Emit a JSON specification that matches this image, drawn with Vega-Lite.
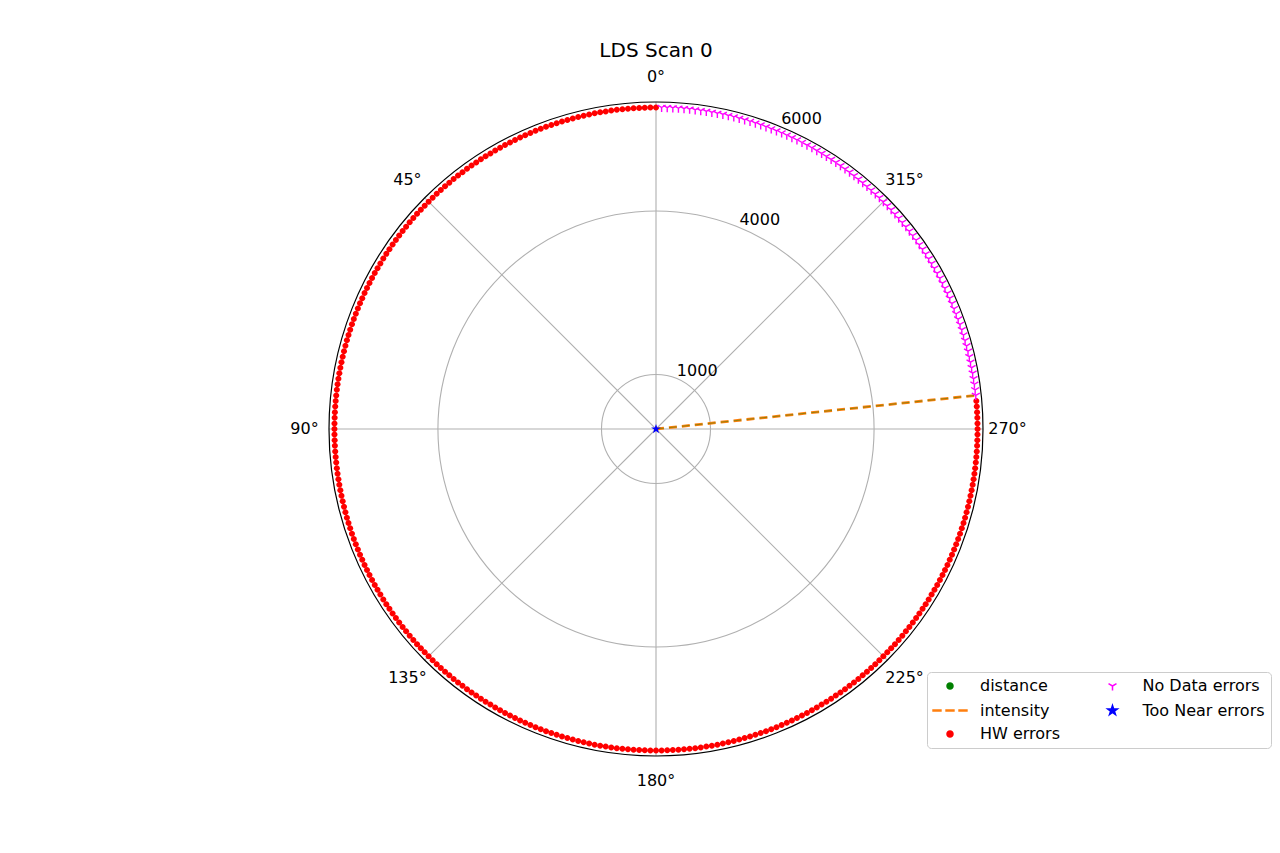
{
"$schema":"https://vega.github.io/schema/vega-lite/v6.json",
"width":654,"height":654,
"autosize":{"type":"none"},
"padding":{"left":329,"top":102,"right":297,"bottom":97},
"background":"white",
"title":{"text":"LDS Scan 0","font":"DejaVu Sans","fontSize":20,"fontWeight":"normal","color":"black","offset":8,"anchor":"middle","frame":"group"},
"datasets":{
"rings":[{"r":1000},{"r":4000}],
"spine":[{"r":6000}],
"spokes":[{"a":0},{"a":45},{"a":90},{"a":135},{"a":180},{"a":225},{"a":270},{"a":315}],
"angleLabels":[{"a":0,"label":"0°"},{"a":45,"label":"45°"},{"a":90,"label":"90°"},{"a":135,"label":"135°"},{"a":180,"label":"180°"},{"a":225,"label":"225°"},{"a":270,"label":"270°"},{"a":315,"label":"315°"}],
"rLabels":[{"r":1000,"label":"1000"},{"r":4000,"label":"4000"},{"r":6000,"label":"6000"}],
"beam":[{"angle":276,"dist":0,"series":"intensity"},{"angle":276,"dist":5880,"series":"intensity"},{"angle":276,"dist":0,"series":"distance"},{"angle":276,"dist":5880,"series":"distance"}],
"scan":[
{"angle":0,"dist":5900,"series":"HW errors"},{"angle":1,"dist":5900,"series":"HW errors"},{"angle":2,"dist":5900,"series":"HW errors"},{"angle":3,"dist":5900,"series":"HW errors"},{"angle":4,"dist":5900,"series":"HW errors"},{"angle":5,"dist":5900,"series":"HW errors"},{"angle":6,"dist":5900,"series":"HW errors"},{"angle":7,"dist":5900,"series":"HW errors"},{"angle":8,"dist":5900,"series":"HW errors"},{"angle":9,"dist":5900,"series":"HW errors"},
{"angle":10,"dist":5900,"series":"HW errors"},{"angle":11,"dist":5900,"series":"HW errors"},{"angle":12,"dist":5900,"series":"HW errors"},{"angle":13,"dist":5900,"series":"HW errors"},{"angle":14,"dist":5900,"series":"HW errors"},{"angle":15,"dist":5900,"series":"HW errors"},{"angle":16,"dist":5900,"series":"HW errors"},{"angle":17,"dist":5900,"series":"HW errors"},{"angle":18,"dist":5900,"series":"HW errors"},{"angle":19,"dist":5900,"series":"HW errors"},
{"angle":20,"dist":5900,"series":"HW errors"},{"angle":21,"dist":5900,"series":"HW errors"},{"angle":22,"dist":5900,"series":"HW errors"},{"angle":23,"dist":5900,"series":"HW errors"},{"angle":24,"dist":5900,"series":"HW errors"},{"angle":25,"dist":5900,"series":"HW errors"},{"angle":26,"dist":5900,"series":"HW errors"},{"angle":27,"dist":5900,"series":"HW errors"},{"angle":28,"dist":5900,"series":"HW errors"},{"angle":29,"dist":5900,"series":"HW errors"},
{"angle":30,"dist":5900,"series":"HW errors"},{"angle":31,"dist":5900,"series":"HW errors"},{"angle":32,"dist":5900,"series":"HW errors"},{"angle":33,"dist":5900,"series":"HW errors"},{"angle":34,"dist":5900,"series":"HW errors"},{"angle":35,"dist":5900,"series":"HW errors"},{"angle":36,"dist":5900,"series":"HW errors"},{"angle":37,"dist":5900,"series":"HW errors"},{"angle":38,"dist":5900,"series":"HW errors"},{"angle":39,"dist":5900,"series":"HW errors"},
{"angle":40,"dist":5900,"series":"HW errors"},{"angle":41,"dist":5900,"series":"HW errors"},{"angle":42,"dist":5900,"series":"HW errors"},{"angle":43,"dist":5900,"series":"HW errors"},{"angle":44,"dist":5900,"series":"HW errors"},{"angle":45,"dist":5900,"series":"HW errors"},{"angle":46,"dist":5900,"series":"HW errors"},{"angle":47,"dist":5900,"series":"HW errors"},{"angle":48,"dist":5900,"series":"HW errors"},{"angle":49,"dist":5900,"series":"HW errors"},
{"angle":50,"dist":5900,"series":"HW errors"},{"angle":51,"dist":5900,"series":"HW errors"},{"angle":52,"dist":5900,"series":"HW errors"},{"angle":53,"dist":5900,"series":"HW errors"},{"angle":54,"dist":5900,"series":"HW errors"},{"angle":55,"dist":5900,"series":"HW errors"},{"angle":56,"dist":5900,"series":"HW errors"},{"angle":57,"dist":5900,"series":"HW errors"},{"angle":58,"dist":5900,"series":"HW errors"},{"angle":59,"dist":5900,"series":"HW errors"},
{"angle":60,"dist":5900,"series":"HW errors"},{"angle":61,"dist":5900,"series":"HW errors"},{"angle":62,"dist":5900,"series":"HW errors"},{"angle":63,"dist":5900,"series":"HW errors"},{"angle":64,"dist":5900,"series":"HW errors"},{"angle":65,"dist":5900,"series":"HW errors"},{"angle":66,"dist":5900,"series":"HW errors"},{"angle":67,"dist":5900,"series":"HW errors"},{"angle":68,"dist":5900,"series":"HW errors"},{"angle":69,"dist":5900,"series":"HW errors"},
{"angle":70,"dist":5900,"series":"HW errors"},{"angle":71,"dist":5900,"series":"HW errors"},{"angle":72,"dist":5900,"series":"HW errors"},{"angle":73,"dist":5900,"series":"HW errors"},{"angle":74,"dist":5900,"series":"HW errors"},{"angle":75,"dist":5900,"series":"HW errors"},{"angle":76,"dist":5900,"series":"HW errors"},{"angle":77,"dist":5900,"series":"HW errors"},{"angle":78,"dist":5900,"series":"HW errors"},{"angle":79,"dist":5900,"series":"HW errors"},
{"angle":80,"dist":5900,"series":"HW errors"},{"angle":81,"dist":5900,"series":"HW errors"},{"angle":82,"dist":5900,"series":"HW errors"},{"angle":83,"dist":5900,"series":"HW errors"},{"angle":84,"dist":5900,"series":"HW errors"},{"angle":85,"dist":5900,"series":"HW errors"},{"angle":86,"dist":5900,"series":"HW errors"},{"angle":87,"dist":5900,"series":"HW errors"},{"angle":88,"dist":5900,"series":"HW errors"},{"angle":89,"dist":5900,"series":"HW errors"},
{"angle":90,"dist":5900,"series":"HW errors"},{"angle":91,"dist":5900,"series":"HW errors"},{"angle":92,"dist":5900,"series":"HW errors"},{"angle":93,"dist":5900,"series":"HW errors"},{"angle":94,"dist":5900,"series":"HW errors"},{"angle":95,"dist":5900,"series":"HW errors"},{"angle":96,"dist":5900,"series":"HW errors"},{"angle":97,"dist":5900,"series":"HW errors"},{"angle":98,"dist":5900,"series":"HW errors"},{"angle":99,"dist":5900,"series":"HW errors"},
{"angle":100,"dist":5900,"series":"HW errors"},{"angle":101,"dist":5900,"series":"HW errors"},{"angle":102,"dist":5900,"series":"HW errors"},{"angle":103,"dist":5900,"series":"HW errors"},{"angle":104,"dist":5900,"series":"HW errors"},{"angle":105,"dist":5900,"series":"HW errors"},{"angle":106,"dist":5900,"series":"HW errors"},{"angle":107,"dist":5900,"series":"HW errors"},{"angle":108,"dist":5900,"series":"HW errors"},{"angle":109,"dist":5900,"series":"HW errors"},
{"angle":110,"dist":5900,"series":"HW errors"},{"angle":111,"dist":5900,"series":"HW errors"},{"angle":112,"dist":5900,"series":"HW errors"},{"angle":113,"dist":5900,"series":"HW errors"},{"angle":114,"dist":5900,"series":"HW errors"},{"angle":115,"dist":5900,"series":"HW errors"},{"angle":116,"dist":5900,"series":"HW errors"},{"angle":117,"dist":5900,"series":"HW errors"},{"angle":118,"dist":5900,"series":"HW errors"},{"angle":119,"dist":5900,"series":"HW errors"},
{"angle":120,"dist":5900,"series":"HW errors"},{"angle":121,"dist":5900,"series":"HW errors"},{"angle":122,"dist":5900,"series":"HW errors"},{"angle":123,"dist":5900,"series":"HW errors"},{"angle":124,"dist":5900,"series":"HW errors"},{"angle":125,"dist":5900,"series":"HW errors"},{"angle":126,"dist":5900,"series":"HW errors"},{"angle":127,"dist":5900,"series":"HW errors"},{"angle":128,"dist":5900,"series":"HW errors"},{"angle":129,"dist":5900,"series":"HW errors"},
{"angle":130,"dist":5900,"series":"HW errors"},{"angle":131,"dist":5900,"series":"HW errors"},{"angle":132,"dist":5900,"series":"HW errors"},{"angle":133,"dist":5900,"series":"HW errors"},{"angle":134,"dist":5900,"series":"HW errors"},{"angle":135,"dist":5900,"series":"HW errors"},{"angle":136,"dist":5900,"series":"HW errors"},{"angle":137,"dist":5900,"series":"HW errors"},{"angle":138,"dist":5900,"series":"HW errors"},{"angle":139,"dist":5900,"series":"HW errors"},
{"angle":140,"dist":5900,"series":"HW errors"},{"angle":141,"dist":5900,"series":"HW errors"},{"angle":142,"dist":5900,"series":"HW errors"},{"angle":143,"dist":5900,"series":"HW errors"},{"angle":144,"dist":5900,"series":"HW errors"},{"angle":145,"dist":5900,"series":"HW errors"},{"angle":146,"dist":5900,"series":"HW errors"},{"angle":147,"dist":5900,"series":"HW errors"},{"angle":148,"dist":5900,"series":"HW errors"},{"angle":149,"dist":5900,"series":"HW errors"},
{"angle":150,"dist":5900,"series":"HW errors"},{"angle":151,"dist":5900,"series":"HW errors"},{"angle":152,"dist":5900,"series":"HW errors"},{"angle":153,"dist":5900,"series":"HW errors"},{"angle":154,"dist":5900,"series":"HW errors"},{"angle":155,"dist":5900,"series":"HW errors"},{"angle":156,"dist":5900,"series":"HW errors"},{"angle":157,"dist":5900,"series":"HW errors"},{"angle":158,"dist":5900,"series":"HW errors"},{"angle":159,"dist":5900,"series":"HW errors"},
{"angle":160,"dist":5900,"series":"HW errors"},{"angle":161,"dist":5900,"series":"HW errors"},{"angle":162,"dist":5900,"series":"HW errors"},{"angle":163,"dist":5900,"series":"HW errors"},{"angle":164,"dist":5900,"series":"HW errors"},{"angle":165,"dist":5900,"series":"HW errors"},{"angle":166,"dist":5900,"series":"HW errors"},{"angle":167,"dist":5900,"series":"HW errors"},{"angle":168,"dist":5900,"series":"HW errors"},{"angle":169,"dist":5900,"series":"HW errors"},
{"angle":170,"dist":5900,"series":"HW errors"},{"angle":171,"dist":5900,"series":"HW errors"},{"angle":172,"dist":5900,"series":"HW errors"},{"angle":173,"dist":5900,"series":"HW errors"},{"angle":174,"dist":5900,"series":"HW errors"},{"angle":175,"dist":5900,"series":"HW errors"},{"angle":176,"dist":5900,"series":"HW errors"},{"angle":177,"dist":5900,"series":"HW errors"},{"angle":178,"dist":5900,"series":"HW errors"},{"angle":179,"dist":5900,"series":"HW errors"},
{"angle":180,"dist":5900,"series":"HW errors"},{"angle":181,"dist":5900,"series":"HW errors"},{"angle":182,"dist":5900,"series":"HW errors"},{"angle":183,"dist":5900,"series":"HW errors"},{"angle":184,"dist":5900,"series":"HW errors"},{"angle":185,"dist":5900,"series":"HW errors"},{"angle":186,"dist":5900,"series":"HW errors"},{"angle":187,"dist":5900,"series":"HW errors"},{"angle":188,"dist":5900,"series":"HW errors"},{"angle":189,"dist":5900,"series":"HW errors"},
{"angle":190,"dist":5900,"series":"HW errors"},{"angle":191,"dist":5900,"series":"HW errors"},{"angle":192,"dist":5900,"series":"HW errors"},{"angle":193,"dist":5900,"series":"HW errors"},{"angle":194,"dist":5900,"series":"HW errors"},{"angle":195,"dist":5900,"series":"HW errors"},{"angle":196,"dist":5900,"series":"HW errors"},{"angle":197,"dist":5900,"series":"HW errors"},{"angle":198,"dist":5900,"series":"HW errors"},{"angle":199,"dist":5900,"series":"HW errors"},
{"angle":200,"dist":5900,"series":"HW errors"},{"angle":201,"dist":5900,"series":"HW errors"},{"angle":202,"dist":5900,"series":"HW errors"},{"angle":203,"dist":5900,"series":"HW errors"},{"angle":204,"dist":5900,"series":"HW errors"},{"angle":205,"dist":5900,"series":"HW errors"},{"angle":206,"dist":5900,"series":"HW errors"},{"angle":207,"dist":5900,"series":"HW errors"},{"angle":208,"dist":5900,"series":"HW errors"},{"angle":209,"dist":5900,"series":"HW errors"},
{"angle":210,"dist":5900,"series":"HW errors"},{"angle":211,"dist":5900,"series":"HW errors"},{"angle":212,"dist":5900,"series":"HW errors"},{"angle":213,"dist":5900,"series":"HW errors"},{"angle":214,"dist":5900,"series":"HW errors"},{"angle":215,"dist":5900,"series":"HW errors"},{"angle":216,"dist":5900,"series":"HW errors"},{"angle":217,"dist":5900,"series":"HW errors"},{"angle":218,"dist":5900,"series":"HW errors"},{"angle":219,"dist":5900,"series":"HW errors"},
{"angle":220,"dist":5900,"series":"HW errors"},{"angle":221,"dist":5900,"series":"HW errors"},{"angle":222,"dist":5900,"series":"HW errors"},{"angle":223,"dist":5900,"series":"HW errors"},{"angle":224,"dist":5900,"series":"HW errors"},{"angle":225,"dist":5900,"series":"HW errors"},{"angle":226,"dist":5900,"series":"HW errors"},{"angle":227,"dist":5900,"series":"HW errors"},{"angle":228,"dist":5900,"series":"HW errors"},{"angle":229,"dist":5900,"series":"HW errors"},
{"angle":230,"dist":5900,"series":"HW errors"},{"angle":231,"dist":5900,"series":"HW errors"},{"angle":232,"dist":5900,"series":"HW errors"},{"angle":233,"dist":5900,"series":"HW errors"},{"angle":234,"dist":5900,"series":"HW errors"},{"angle":235,"dist":5900,"series":"HW errors"},{"angle":236,"dist":5900,"series":"HW errors"},{"angle":237,"dist":5900,"series":"HW errors"},{"angle":238,"dist":5900,"series":"HW errors"},{"angle":239,"dist":5900,"series":"HW errors"},
{"angle":240,"dist":5900,"series":"HW errors"},{"angle":241,"dist":5900,"series":"HW errors"},{"angle":242,"dist":5900,"series":"HW errors"},{"angle":243,"dist":5900,"series":"HW errors"},{"angle":244,"dist":5900,"series":"HW errors"},{"angle":245,"dist":5900,"series":"HW errors"},{"angle":246,"dist":5900,"series":"HW errors"},{"angle":247,"dist":5900,"series":"HW errors"},{"angle":248,"dist":5900,"series":"HW errors"},{"angle":249,"dist":5900,"series":"HW errors"},
{"angle":250,"dist":5900,"series":"HW errors"},{"angle":251,"dist":5900,"series":"HW errors"},{"angle":252,"dist":5900,"series":"HW errors"},{"angle":253,"dist":5900,"series":"HW errors"},{"angle":254,"dist":5900,"series":"HW errors"},{"angle":255,"dist":5900,"series":"HW errors"},{"angle":256,"dist":5900,"series":"HW errors"},{"angle":257,"dist":5900,"series":"HW errors"},{"angle":258,"dist":5900,"series":"HW errors"},{"angle":259,"dist":5900,"series":"HW errors"},
{"angle":260,"dist":5900,"series":"HW errors"},{"angle":261,"dist":5900,"series":"HW errors"},{"angle":262,"dist":5900,"series":"HW errors"},{"angle":263,"dist":5900,"series":"HW errors"},{"angle":264,"dist":5900,"series":"HW errors"},{"angle":265,"dist":5900,"series":"HW errors"},{"angle":266,"dist":5900,"series":"HW errors"},{"angle":267,"dist":5900,"series":"HW errors"},{"angle":268,"dist":5900,"series":"HW errors"},{"angle":269,"dist":5900,"series":"HW errors"},
{"angle":270,"dist":5900,"series":"HW errors"},{"angle":271,"dist":5900,"series":"HW errors"},{"angle":272,"dist":5900,"series":"HW errors"},{"angle":273,"dist":5900,"series":"HW errors"},{"angle":274,"dist":5900,"series":"HW errors"},{"angle":275,"dist":5900,"series":"HW errors"},
{"angle":276,"dist":5900,"series":"No Data errors"},{"angle":277,"dist":5900,"series":"No Data errors"},{"angle":278,"dist":5900,"series":"No Data errors"},{"angle":279,"dist":5900,"series":"No Data errors"},
{"angle":280,"dist":5900,"series":"No Data errors"},{"angle":281,"dist":5900,"series":"No Data errors"},{"angle":282,"dist":5900,"series":"No Data errors"},{"angle":283,"dist":5900,"series":"No Data errors"},{"angle":284,"dist":5900,"series":"No Data errors"},{"angle":285,"dist":5900,"series":"No Data errors"},{"angle":286,"dist":5900,"series":"No Data errors"},{"angle":287,"dist":5900,"series":"No Data errors"},{"angle":288,"dist":5900,"series":"No Data errors"},{"angle":289,"dist":5900,"series":"No Data errors"},
{"angle":290,"dist":5900,"series":"No Data errors"},{"angle":291,"dist":5900,"series":"No Data errors"},{"angle":292,"dist":5900,"series":"No Data errors"},{"angle":293,"dist":5900,"series":"No Data errors"},{"angle":294,"dist":5900,"series":"No Data errors"},{"angle":295,"dist":5900,"series":"No Data errors"},{"angle":296,"dist":5900,"series":"No Data errors"},{"angle":297,"dist":5900,"series":"No Data errors"},{"angle":298,"dist":5900,"series":"No Data errors"},{"angle":299,"dist":5900,"series":"No Data errors"},
{"angle":300,"dist":5900,"series":"No Data errors"},{"angle":301,"dist":5900,"series":"No Data errors"},{"angle":302,"dist":5900,"series":"No Data errors"},{"angle":303,"dist":5900,"series":"No Data errors"},{"angle":304,"dist":5900,"series":"No Data errors"},{"angle":305,"dist":5900,"series":"No Data errors"},{"angle":306,"dist":5900,"series":"No Data errors"},{"angle":307,"dist":5900,"series":"No Data errors"},{"angle":308,"dist":5900,"series":"No Data errors"},{"angle":309,"dist":5900,"series":"No Data errors"},
{"angle":310,"dist":5900,"series":"No Data errors"},{"angle":311,"dist":5900,"series":"No Data errors"},{"angle":312,"dist":5900,"series":"No Data errors"},{"angle":313,"dist":5900,"series":"No Data errors"},{"angle":314,"dist":5900,"series":"No Data errors"},{"angle":315,"dist":5900,"series":"No Data errors"},{"angle":316,"dist":5900,"series":"No Data errors"},{"angle":317,"dist":5900,"series":"No Data errors"},{"angle":318,"dist":5900,"series":"No Data errors"},{"angle":319,"dist":5900,"series":"No Data errors"},
{"angle":320,"dist":5900,"series":"No Data errors"},{"angle":321,"dist":5900,"series":"No Data errors"},{"angle":322,"dist":5900,"series":"No Data errors"},{"angle":323,"dist":5900,"series":"No Data errors"},{"angle":324,"dist":5900,"series":"No Data errors"},{"angle":325,"dist":5900,"series":"No Data errors"},{"angle":326,"dist":5900,"series":"No Data errors"},{"angle":327,"dist":5900,"series":"No Data errors"},{"angle":328,"dist":5900,"series":"No Data errors"},{"angle":329,"dist":5900,"series":"No Data errors"},
{"angle":330,"dist":5900,"series":"No Data errors"},{"angle":331,"dist":5900,"series":"No Data errors"},{"angle":332,"dist":5900,"series":"No Data errors"},{"angle":333,"dist":5900,"series":"No Data errors"},{"angle":334,"dist":5900,"series":"No Data errors"},{"angle":335,"dist":5900,"series":"No Data errors"},{"angle":336,"dist":5900,"series":"No Data errors"},{"angle":337,"dist":5900,"series":"No Data errors"},{"angle":338,"dist":5900,"series":"No Data errors"},{"angle":339,"dist":5900,"series":"No Data errors"},
{"angle":340,"dist":5900,"series":"No Data errors"},{"angle":341,"dist":5900,"series":"No Data errors"},{"angle":342,"dist":5900,"series":"No Data errors"},{"angle":343,"dist":5900,"series":"No Data errors"},{"angle":344,"dist":5900,"series":"No Data errors"},{"angle":345,"dist":5900,"series":"No Data errors"},{"angle":346,"dist":5900,"series":"No Data errors"},{"angle":347,"dist":5900,"series":"No Data errors"},{"angle":348,"dist":5900,"series":"No Data errors"},{"angle":349,"dist":5900,"series":"No Data errors"},
{"angle":350,"dist":5900,"series":"No Data errors"},{"angle":351,"dist":5900,"series":"No Data errors"},{"angle":352,"dist":5900,"series":"No Data errors"},{"angle":353,"dist":5900,"series":"No Data errors"},{"angle":354,"dist":5900,"series":"No Data errors"},{"angle":355,"dist":5900,"series":"No Data errors"},{"angle":356,"dist":5900,"series":"No Data errors"},{"angle":357,"dist":5900,"series":"No Data errors"},{"angle":358,"dist":5900,"series":"No Data errors"},{"angle":359,"dist":5900,"series":"No Data errors"},
{"angle":0,"dist":0,"series":"Too Near errors"}
]
},
"layer":[
{"data":{"name":"rings"},"mark":{"type":"arc","filled":false,"color":"#b0b0b0","strokeWidth":1.1,"theta":0,"theta2":6.3},
 "encoding":{"radius":{"field":"r","type":"quantitative","stack":null,"scale":{"type":"linear","domain":[0,6000],"range":[0,327],"zero":true,"nice":false}}}},
{"data":{"name":"spokes"},"mark":{"type":"arc","filled":false,"color":"#b0b0b0","strokeWidth":1.1},
 "encoding":{"theta":{"field":"a","type":"quantitative","stack":null,"scale":{"type":"linear","domain":[0,360],"range":[6.283185307179586,0]}},"theta2":{"field":"a"},
 "radius":{"datum":6000,"type":"quantitative","scale":{"type":"linear","domain":[0,6000],"range":[0,327],"zero":true,"nice":false}}}},
{"data":{"name":"spine"},"mark":{"type":"arc","filled":false,"color":"black","strokeWidth":1.2,"theta":0,"theta2":6.3},
 "encoding":{"radius":{"field":"r","type":"quantitative","stack":null,"scale":{"type":"linear","domain":[0,6000],"range":[0,327],"zero":true,"nice":false}}}},
{"data":{"name":"angleLabels"},"mark":{"type":"text","font":"DejaVu Sans","fontSize":16,"color":"black","align":"center","baseline":"middle"},
 "encoding":{"theta":{"field":"a","type":"quantitative","scale":{"type":"linear","domain":[0,360],"range":[6.283185307179586,0]}},
 "radius":{"datum":6450,"type":"quantitative","scale":{"type":"linear","domain":[0,6000],"range":[0,327],"zero":true,"nice":false}},
 "text":{"field":"label","type":"nominal"}}},
{"data":{"name":"rLabels"},"mark":{"type":"text","font":"DejaVu Sans","fontSize":16,"color":"black","align":"left","baseline":"bottom"},
 "encoding":{"theta":{"datum":337.5,"type":"quantitative","scale":{"type":"linear","domain":[0,360],"range":[6.283185307179586,0]}},
 "radius":{"field":"r","type":"quantitative","scale":{"type":"linear","domain":[0,6000],"range":[0,327],"zero":true,"nice":false}},
 "text":{"field":"label","type":"nominal"}}},
{"data":{"name":"beam"},"transform":[{"filter":"datum.series === 'intensity'"},{"calculate":"-datum.dist*sin(datum.angle*PI/180)","as":"x"},{"calculate":"datum.dist*cos(datum.angle*PI/180)","as":"y"}],
 "mark":{"type":"line","strokeWidth":2.8,"strokeDash":[8,5],"strokeCap":"butt"},
 "encoding":{"x":{"field":"x","type":"quantitative","scale":{"domain":[-6000,6000],"nice":false,"zero":false},"axis":null},
 "y":{"field":"y","type":"quantitative","scale":{"domain":[-6000,6000],"nice":false,"zero":false},"axis":null},
 "color":{"field":"series","type":"nominal","scale":{"domain":["distance","intensity","HW errors","No Data errors","Too Near errors"],"range":["#008000","#ff7f0e","#ff0000","#ff00ff","#0000ff"]}}}},
{"data":{"name":"beam"},"transform":[{"filter":"datum.series === 'distance'"},{"calculate":"-datum.dist*sin(datum.angle*PI/180)","as":"x"},{"calculate":"datum.dist*cos(datum.angle*PI/180)","as":"y"}],
 "mark":{"type":"line","strokeWidth":0.7,"strokeDash":[8,5],"strokeCap":"butt","opacity":0.6},
 "encoding":{"x":{"field":"x","type":"quantitative","scale":{"domain":[-6000,6000],"nice":false,"zero":false},"axis":null},
 "y":{"field":"y","type":"quantitative","scale":{"domain":[-6000,6000],"nice":false,"zero":false},"axis":null},
 "color":{"field":"series","type":"nominal","scale":{"domain":["distance","intensity","HW errors","No Data errors","Too Near errors"],"range":["#008000","#ff7f0e","#ff0000","#ff00ff","#0000ff"]}}}},
{"data":{"name":"scan"},"transform":[{"filter":"datum.series === 'HW errors' || datum.series === 'Too Near errors'"},{"calculate":"-datum.dist*sin(datum.angle*PI/180)","as":"x"},{"calculate":"datum.dist*cos(datum.angle*PI/180)","as":"y"}],
 "mark":{"type":"point","filled":true,"size":256,"opacity":1,"strokeWidth":0},
 "encoding":{"x":{"field":"x","type":"quantitative","scale":{"domain":[-6000,6000],"nice":false,"zero":false},"axis":null},
 "y":{"field":"y","type":"quantitative","scale":{"domain":[-6000,6000],"nice":false,"zero":false},"axis":null},
 "color":{"field":"series","type":"nominal","scale":{"domain":["distance","intensity","HW errors","No Data errors","Too Near errors"],"range":["#008000","#ff7f0e","#ff0000","#ff00ff","#0000ff"]},
   "legend":{"title":null,"orient":"none","legendX":598,"legendY":570,"columns":2,"symbolOpacity":1,
     "encode":{"symbols":{"update":{
       "fill":{"signal":"datum.value === 'distance' ? '#008000' : datum.value === 'HW errors' ? '#ff0000' : datum.value === 'Too Near errors' ? '#0000ff' : datum.value === 'intensity' ? '#3a9a3a' : 'transparent'"},
       "stroke":{"signal":"datum.value === 'intensity' ? '#ff7f0e' : datum.value === 'No Data errors' ? '#ff00ff' : 'transparent'"},
       "strokeWidth":{"signal":"datum.value === 'intensity' ? 1.4 : 1.5"},
       "opacity":{"value":1},"fillOpacity":{"value":1},"strokeOpacity":{"value":1}}}}}},
 "shape":{"field":"series","type":"nominal","scale":{"domain":["distance","intensity","HW errors","No Data errors","Too Near errors"],
   "range":["M-2.125,0M2.125,0M0.375,0C0.375,0.207,0.207,0.375,0,0.375C-0.207,0.375,-0.375,0.207,-0.375,0C-0.375,-0.207,-0.207,-0.375,0,-0.375C0.207,-0.375,0.375,-0.207,0.375,0Z",
            "M-2.125,-0.075L-1.125,-0.075L-1.125,0.075L-2.125,0.075ZM-0.5,-0.075L0.5,-0.075L0.5,0.075L-0.5,0.075ZM1.125,-0.075L2.125,-0.075L2.125,0.075L1.125,0.075Z",
            "M-2.125,0M2.125,0M0.375,0C0.375,0.207,0.207,0.375,0,0.375C-0.207,0.375,-0.375,0.207,-0.375,0C-0.375,-0.207,-0.207,-0.375,0,-0.375C0.207,-0.375,0.375,-0.207,0.375,0Z",
            "M-2.125,0M2.125,0M0,0L0,0.575M0,0L-0.498,-0.2875M0,0L0.498,-0.2875",
            "M-2.125,0M2.125,0M0,-0.64L0.148,-0.203L0.609,-0.198L0.238,0.077L0.376,0.518L0,0.247L-0.376,0.518L-0.238,0.077L-0.609,-0.198L-0.148,-0.203Z"]},
   "legend":{"title":null,"orient":"none","legendX":598,"legendY":570,"columns":2,"symbolOpacity":1}}}},
{"data":{"name":"scan"},"transform":[{"filter":"datum.series === 'No Data errors'"},{"calculate":"-datum.dist*sin(datum.angle*PI/180)","as":"x"},{"calculate":"datum.dist*cos(datum.angle*PI/180)","as":"y"}],
 "mark":{"type":"point","filled":false,"size":256,"opacity":1,"strokeWidth":1.4},
 "encoding":{"x":{"field":"x","type":"quantitative","scale":{"domain":[-6000,6000],"nice":false,"zero":false},"axis":null},
 "y":{"field":"y","type":"quantitative","scale":{"domain":[-6000,6000],"nice":false,"zero":false},"axis":null},
 "color":{"field":"series","type":"nominal","scale":{"domain":["distance","intensity","HW errors","No Data errors","Too Near errors"],"range":["#008000","#ff7f0e","#ff0000","#ff00ff","#0000ff"]}},
 "shape":{"field":"series","type":"nominal"}}}
],
"config":{"view":{"stroke":null},
 "legend":{"padding":6,"strokeColor":"#cccccc","fillColor":"white","cornerRadius":4,"labelFont":"DejaVu Sans","labelFontSize":16,"labelColor":"black","symbolSize":256,"symbolOffset":9,"labelOffset":22,"columnPadding":31.5,"rowPadding":7.5,"labelLimit":300,"symbolOpacity":1}}
}
